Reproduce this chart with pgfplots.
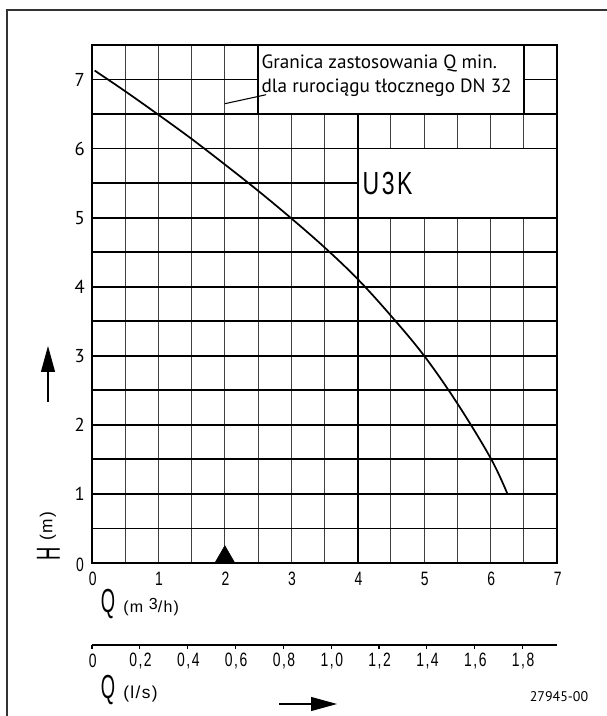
\documentclass[border=0pt]{standalone}
\usepackage{pgfplots}
\pgfplotsset{compat=1.18}
\usepackage{fontspec}
\setmainfont{PT Sans}
\newfontfamily\isofont[FakeStretch=0.72]{Liberation Sans}
\newfontfamily\isolab[FakeStretch=0.72, LetterSpace=8]{Liberation Sans}
\newfontfamily\isotitle[FakeStretch=0.72, LetterSpace=8]{Liberation Sans}
\newfontfamily\isobig[FakeStretch=0.55]{Liberation Sans}
\newfontfamily\isounit[LetterSpace=8]{Liberation Sans}
\usetikzlibrary{arrows.meta}
\tikzset{xlab/.style={font=\isolab\fontsize{14.5}{16}\selectfont, inner sep=0, anchor=center},
         ylab/.style={font=\fontsize{14}{16}\selectfont, inner sep=0, anchor=east}}
\begin{document}
\begin{tikzpicture}
\useasboundingbox (-69pt,-114.75pt) rectangle (385.5pt,422.25pt);
\draw[black!80, line width=0.8pt] (-63.75pt,-130pt) -- (-63.75pt,414.75pt) -- (400pt,414.75pt);
\begin{axis}[
  at={(0,0)}, anchor=south west, scale only axis,
  width=348.75pt, height=388.5pt,
  xmin=0, xmax=7, ymin=0, ymax=7.5,
  xtick={0,1,2,3,4,5,6,7}, xticklabels={},
  minor xtick={0.5,1.5,2.5,3.5,4.5,5.5,6.5},
  ytick={0,1,2,3,4,5,6,7}, yticklabels={},
  minor ytick={0.5,1.5,2.5,3.5,4.5,5.5,6.5},
  major tick length=0pt, minor tick length=0pt,
  grid=both,
  grid style={black},
  major grid style={},
  minor grid style={},
  x grid style={black!75, line width=0.85pt},
  y grid style={black, line width=1.35pt},
  axis line style={line width=1.5pt},
  clip=false,
]
\addplot[black, line width=1.3pt, smooth, tension=0.6] coordinates {
 (0.04,7.13) (0.5,6.83) (1.0,6.49) (1.5,6.14) (2.0,5.77) (2.5,5.39)
 (3.0,4.99) (3.5,4.57) (4.0,4.11) (4.5,3.58) (5.0,3.00) (5.5,2.31)
 (6.0,1.52) (6.25,1.01)
};
\fill[white] (axis cs:2.5,6.5) rectangle (axis cs:6.5,7.5);
\draw[line width=1.35pt] (axis cs:2.5,7.5) -- (axis cs:2.5,6.5) -- (axis cs:6.5,6.5) -- (axis cs:6.5,7.5);
\fill[white] (axis cs:4,5) rectangle (axis cs:7,6);
\draw[line width=1.35pt] (axis cs:7,6) -- (axis cs:4,6) -- (axis cs:4,5) -- (axis cs:7,5);
\draw[line width=1.6pt] (axis cs:4,0) -- (axis cs:4,6.5);
\draw[line width=1.5pt] (rel axis cs:0,0) rectangle (rel axis cs:1,1);
\draw[line width=0.8pt] (axis cs:2.0,6.65) -- (axis cs:2.62,6.78);
\addplot[only marks, mark=triangle*, mark size=8.66pt, mark options={yshift=4.33pt, fill=black, draw=black}] coordinates {(2,0)};
\pgfplotsinvokeforeach{0,1,2,3,4,5,6,7}{
  \node[xlab, yshift=-12pt, xshift=0.5pt] at (axis cs:#1,0) {#1};
}
\pgfplotsinvokeforeach{1,2,3,4,5,6,7}{
  \node[ylab, xshift=-5.25pt] at (axis cs:0,#1) {#1};
}
\node[xlab, xshift=-9pt, yshift=-1.5pt] at (axis cs:0,0) {0};
\node[anchor=base west, font=\fontsize{14.4}{16}\selectfont, inner sep=0, xshift=2.5pt, yshift=-17.5pt] at (axis cs:2.5,7.5) {Granica zastosowania Q min.};
\node[anchor=base west, font=\fontsize{14.4}{16}\selectfont, inner sep=0, xshift=2.5pt, yshift=-35.5pt] at (axis cs:2.5,7.5) {dla rurociągu tłocznego DN 32};
\node[anchor=west, font=\isotitle\fontsize{24}{26}\selectfont, inner sep=0] at (axis cs:4.07,5.5) {U3K};
\end{axis}
\begin{axis}[
  at={(0,-61.5pt)}, anchor=south west, scale only axis,
  width=348.75pt, height=10pt,
  xmin=0, xmax=1.944444, ymin=0, ymax=1,
  axis x line*=bottom, axis y line=none,
  xtick={0,0.2,0.4,0.6,0.8,1.0,1.2,1.4,1.6,1.8}, xticklabels={},
  tick align=outside, major tick length=3pt,
  xtick style={line width=0.8pt, black},
  axis line style={line width=1.1pt},
  clip=false,
]
\addplot[draw=none] coordinates {(0,0.5)};
\node[xlab, yshift=-12pt, xshift=0.5pt] at (axis cs:0,0) {0};
\node[xlab, yshift=-12pt, xshift=0.5pt] at (axis cs:0.2,0) {0,2};
\node[xlab, yshift=-12pt, xshift=0.5pt] at (axis cs:0.4,0) {0,4};
\node[xlab, yshift=-12pt, xshift=0.5pt] at (axis cs:0.6,0) {0,6};
\node[xlab, yshift=-12pt, xshift=0.5pt] at (axis cs:0.8,0) {0,8};
\node[xlab, yshift=-12pt, xshift=0.5pt] at (axis cs:1.0,0) {1,0};
\node[xlab, yshift=-12pt, xshift=0.5pt] at (axis cs:1.2,0) {1,2};
\node[xlab, yshift=-12pt, xshift=0.5pt] at (axis cs:1.4,0) {1,4};
\node[xlab, yshift=-12pt, xshift=0.5pt] at (axis cs:1.6,0) {1,6};
\node[xlab, yshift=-12pt, xshift=0.5pt] at (axis cs:1.8,0) {1,8};
\end{axis}
\node[font=\isobig\fontsize{25}{27}\selectfont, inner sep=0] at (12pt,-30.4pt) {Q};
\node[font=\isounit\fontsize{12}{14}\selectfont, inner sep=0, anchor=west] at (23.25pt,-33pt) {(m \raisebox{0.45ex}{3}/h)};
\node[font=\isobig\fontsize{25}{27}\selectfont, inner sep=0] at (12pt,-95.25pt) {Q};
\node[font=\isounit\fontsize{13}{15}\selectfont, inner sep=0, anchor=west] at (23.25pt,-98.5pt) {(l/s)};
\draw[line width=0.8pt, -{Triangle[length=19.5pt,width=10.5pt]}] (140.25pt,-105.75pt) -- (183.75pt,-105.75pt);
\draw[line width=0.8pt, -{Triangle[length=19.5pt,width=10.5pt]}] (-33pt,120.75pt) -- (-33pt,162.75pt);
\node[rotate=90, font=\isobig\fontsize{25}{27}\selectfont, inner sep=0] at (-32.6pt,6.75pt) {H};
\node[rotate=90, font=\isounit\fontsize{13}{15}\selectfont, inner sep=0] at (-33pt,27.75pt) {(m)};
\node[font=\fontsize{10.5}{12}\selectfont, inner sep=0] at (350.25pt,-100.5pt) {27945-00};
\end{tikzpicture}
\end{document}
